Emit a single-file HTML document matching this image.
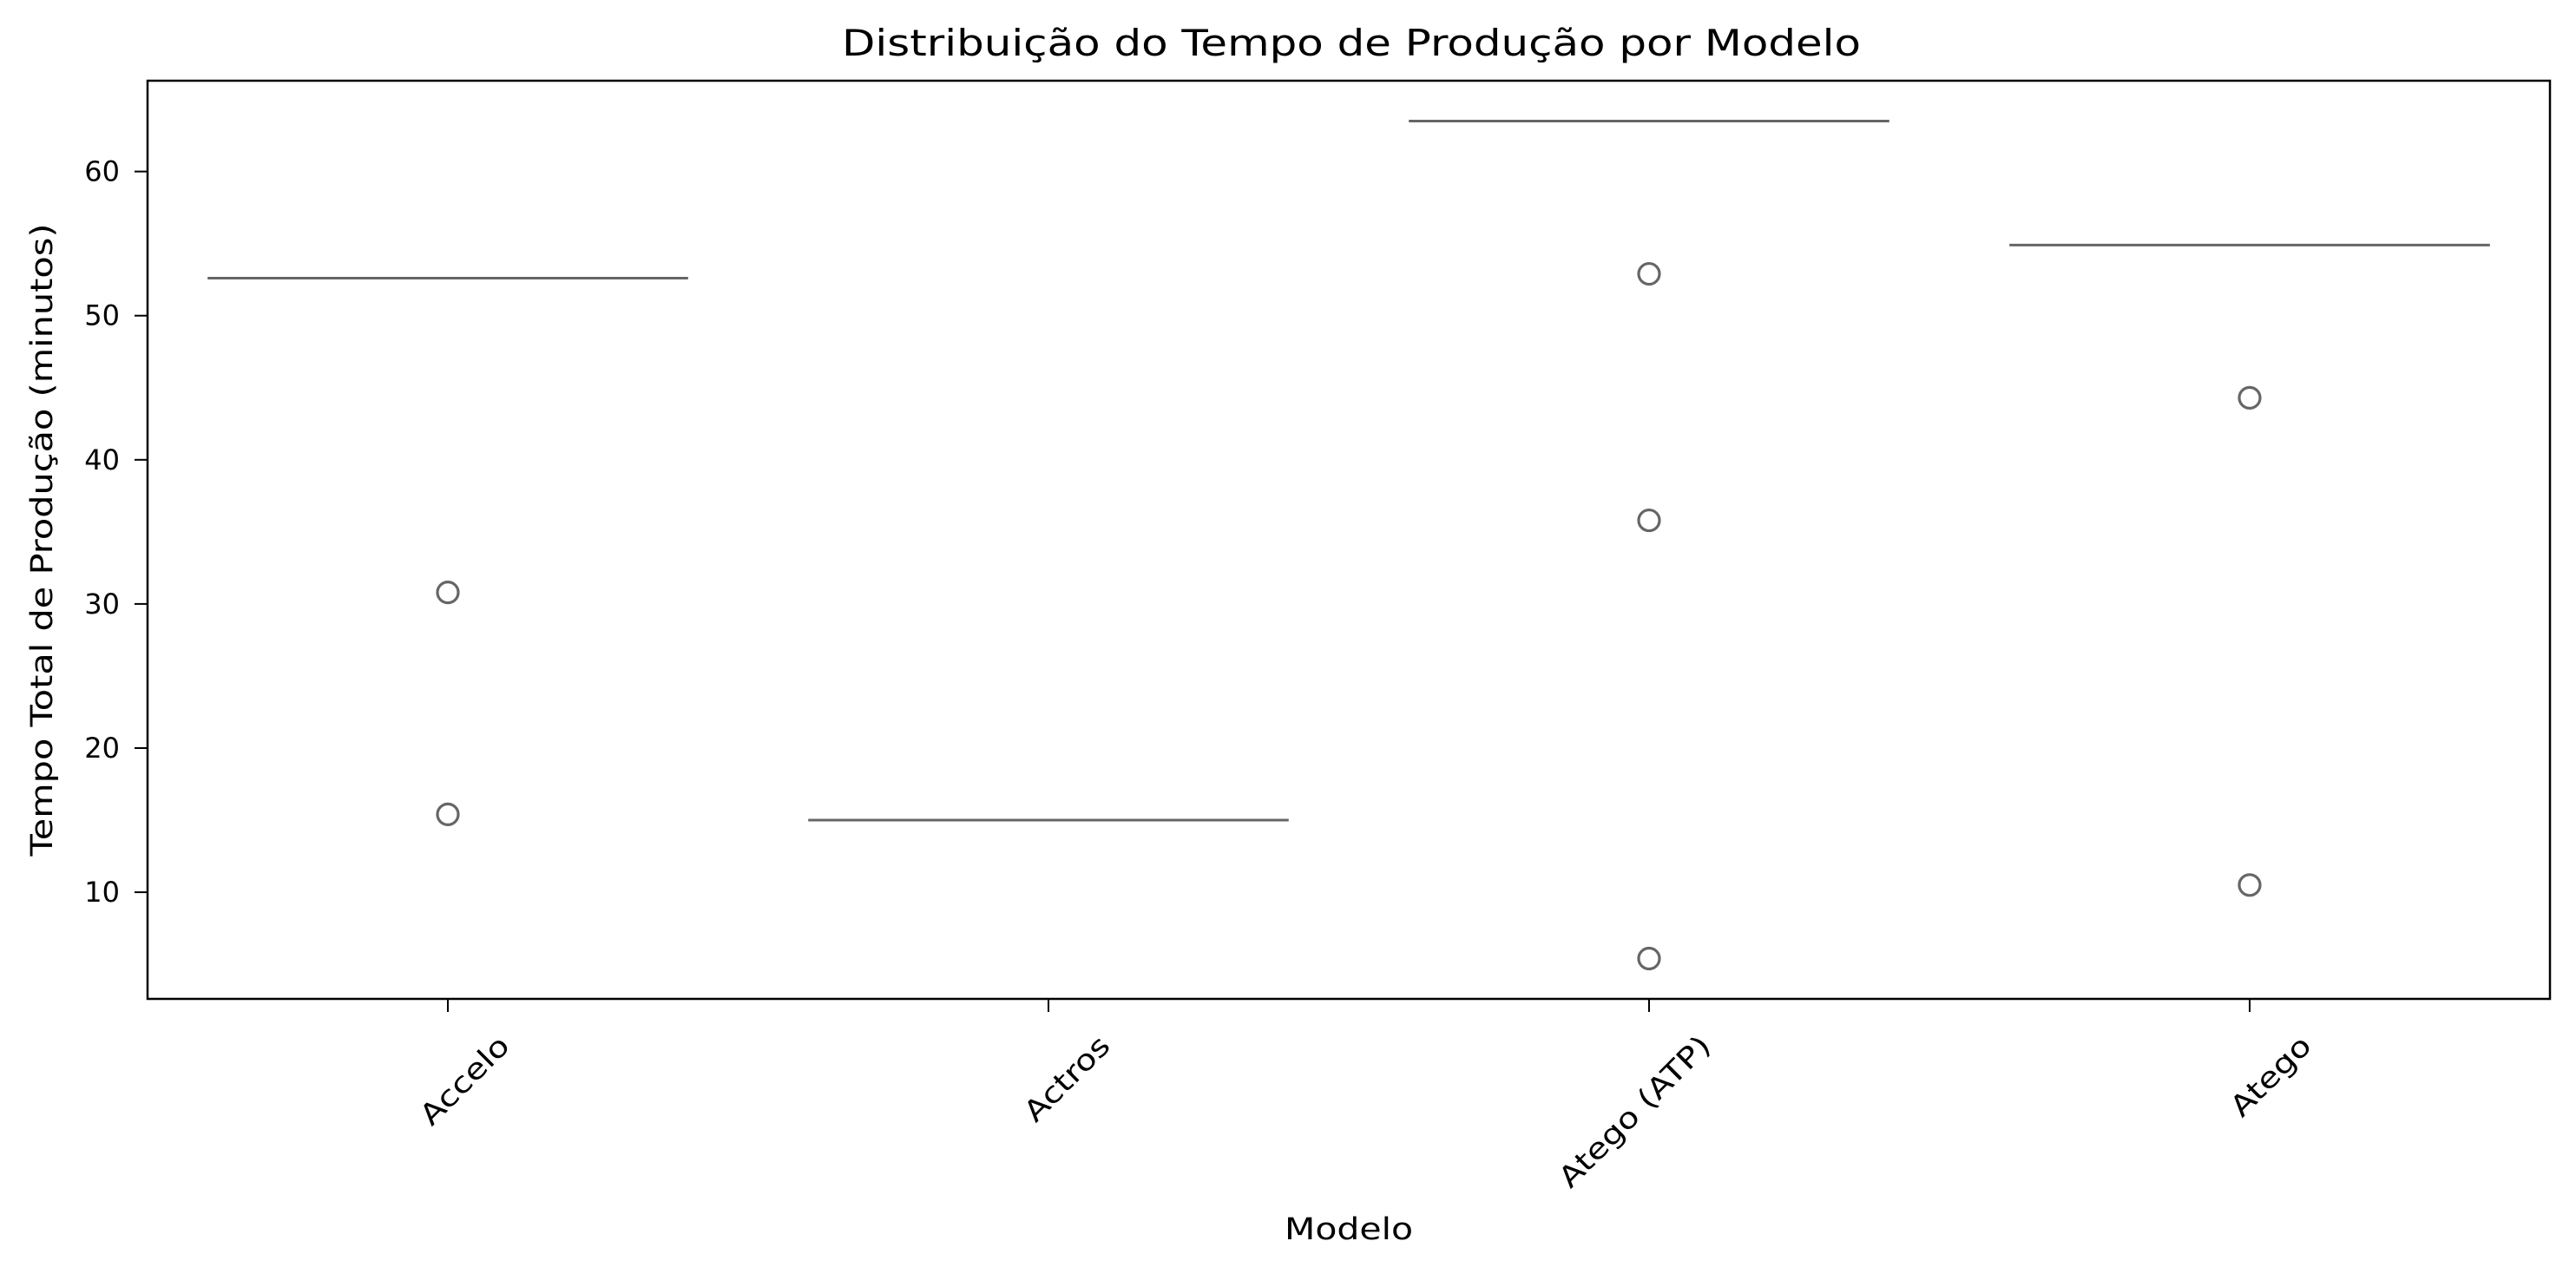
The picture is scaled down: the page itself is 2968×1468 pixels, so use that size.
<!DOCTYPE html>
<html><head><meta charset="utf-8"><style>
html,body{margin:0;padding:0;background:#fff;}
svg{display:block;font-family:"DejaVu Sans","Liberation Sans",sans-serif;}
</style></head><body>
<svg id="chart" width="2968" height="1468" viewBox="0 0 2968 1468" xmlns="http://www.w3.org/2000/svg">
<rect width="2968" height="1468" fill="#fff"/>
<text x="1557" y="64" font-size="42" text-anchor="middle" textLength="1174" lengthAdjust="spacingAndGlyphs">Distribuição do Tempo de Produção por Modelo</text>
<g id="plot"></g>
<rect x="170" y="93" width="2768" height="1058" fill="none" stroke="#000" stroke-width="2.5"/>
<text transform="translate(60,622) rotate(-90)" font-size="35" text-anchor="middle" textLength="729" lengthAdjust="spacingAndGlyphs">Tempo Total de Produção (minutos)</text>
<text x="1554" y="1428" font-size="35" text-anchor="middle" textLength="148" lengthAdjust="spacingAndGlyphs">Modelo</text>
</svg>
<script>
const categories = ["Accelo","Actros","Atego (ATP)","Atego"];
const medianValues = [52.6, 15.0, 63.5, 54.9];
const outlierValues = [[30.8, 15.4], [], [52.9, 35.8, 5.4], [44.3, 10.5]];
const yTicks = [10, 20, 30, 40, 50, 60];

const L=170,R=2938,T=93,B=1151,ymin=2.6,ymax=66.3;
const NS="http://www.w3.org/2000/svg";
const step=(R-L)/categories.length;
function xPos(i){return L+step*(i+0.5);}
function yPos(v){return B-(v-ymin)/(ymax-ymin)*(B-T);}
const svg=document.getElementById('chart');
const g=document.getElementById('plot');
function mk(tag,attrs,parent){const e=document.createElementNS(NS,tag);for(const k in attrs)e.setAttribute(k,attrs[k]);(parent||g).appendChild(e);return e;}

yTicks.forEach(v=>{
  const y=yPos(v);
  const t=mk('line',{x1:L-15,x2:L,y1:y,y2:y,stroke:'#000','stroke-width':2});
  
  
  const tx=mk('text',{x:L-32,y:y+11,'font-size':32,'text-anchor':'end'},svg);
  tx.textContent=v;
  
  
});

categories.forEach((c,i)=>{
  const x=xPos(i);
  const t=mk('line',{x1:x,x2:x,y1:B,y2:B+15,stroke:'#000','stroke-width':2});
  
  
  const ax=x+73, ay=B+56;
  const tx=mk('text',{x:ax,y:ay,'font-size':33,'text-anchor':'end',transform:`rotate(-45 ${ax} ${ay})`},svg);
  tx.textContent=c;
  
  
  const len=tx.getComputedTextLength();
  if(len>0){tx.setAttribute('textLength',len*1.2);tx.setAttribute('lengthAdjust','spacingAndGlyphs');}

  const hw=step*0.4;
  const m=mk('line',{x1:x-hw,x2:x+hw,y1:yPos(medianValues[i]),y2:yPos(medianValues[i]),stroke:'#666','stroke-width':3});
  
  
  outlierValues[i].forEach(v=>{
    const o=mk('circle',{cx:x,cy:yPos(v),r:12,fill:'none',stroke:'#666','stroke-width':3.2});
    
    
  });
});
</script>
</body></html>
